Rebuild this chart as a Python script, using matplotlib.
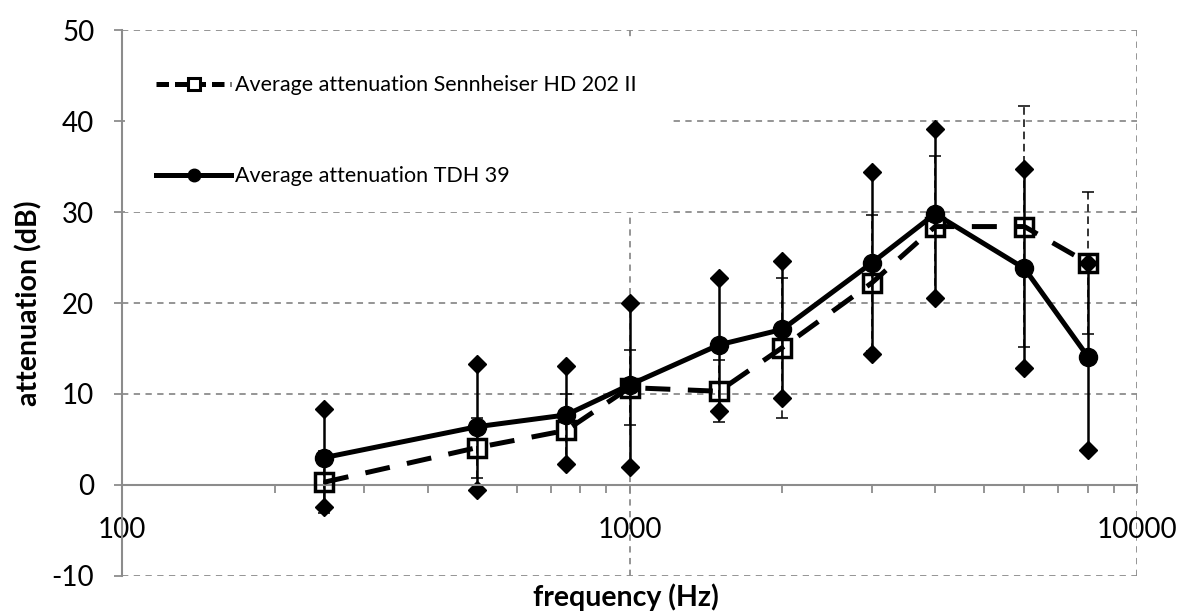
import matplotlib
matplotlib.use("Agg")
import matplotlib.pyplot as plt
from matplotlib.lines import Line2D
from matplotlib.patches import Rectangle
from matplotlib.ticker import LogLocator, NullFormatter, FixedLocator, FixedFormatter

plt.rcParams['font.family'] = ['Lato', 'DejaVu Sans']
plt.rcParams['axes.unicode_minus'] = False

freq = [250, 500, 750, 1000, 1500, 2000, 3000, 4000, 6000, 8000]

# Sennheiser HD 202 II: mean and spread
senn_mean = [0.3, 4.1, 6.0, 10.7, 10.3, 15.1, 22.2, 28.4, 28.4, 24.4]
senn_sd = [3.4, 3.3, 4.0, 4.1, 3.4, 7.7, 7.5, 7.8, 13.2, 7.8]

# TDH 39: mean and spread
tdh_mean = [3.0, 6.4, 7.7, 11.0, 15.4, 17.1, 24.4, 29.8, 23.8, 14.1]
tdh_sd = [5.4, 6.9, 5.4, 9.0, 7.3, 7.5, 10.0, 9.3, 10.9, 10.3]

senn_label = "Average attenuation Sennheiser HD 202 II"
tdh_label = "Average attenuation TDH 39"

yticks = [-10, 0, 10, 20, 30, 40, 50]
xticks = [100, 1000, 10000]
xticklabels = ["100", "1000", "10000"]

grey = "#8c8c8c"

fig = plt.figure(figsize=(11.81, 6.13), dpi=100)
ax = fig.add_axes([0.1033, 0.0604, 0.8595, 0.8906])
ax.set_xscale("log")
ax.set_xlim(100, 10000)
ax.set_ylim(-10, 50)

# grid
ax.set_axisbelow(True)
ax.yaxis.set_major_locator(FixedLocator(yticks))
ax.xaxis.set_major_locator(FixedLocator(xticks))
ax.xaxis.set_major_formatter(FixedFormatter(xticklabels))
ax.xaxis.set_minor_locator(LogLocator(base=10, subs=range(2, 10)))
ax.xaxis.set_minor_formatter(NullFormatter())
ax.grid(True, which="major", color=grey, linestyle=(0, (3.5, 3)), linewidth=1.3)

# white area behind legend hides the grid there
ax.add_patch(Rectangle((0.003, 0.667), 0.539, 0.32, transform=ax.transAxes,
                       facecolor="white", edgecolor="none", zorder=1))

for s in ["top", "right"]:
    ax.spines[s].set_visible(False)
ax.spines["bottom"].set_position(("data", 0))
ax.spines["bottom"].set_color(grey)
ax.spines["left"].set_color(grey)
ax.spines["bottom"].set_linewidth(1.5)
ax.spines["left"].set_linewidth(1.5)

ax.tick_params(axis="x", which="both", direction="out", length=6, width=1.3,
               color=grey, labelsize=20, pad=17)
ax.tick_params(axis="y", which="major", direction="out", length=6, width=1.3,
               color=grey, labelsize=20, pad=14)

# Sennheiser error bars (thin dashed)
eb = ax.errorbar(freq, senn_mean, yerr=senn_sd, fmt="none", ecolor="black",
                 elinewidth=1.1, capsize=4, capthick=1.1, zorder=2)
for lc in eb[2]:
    lc.set_linestyle((0, (5, 3)))

# TDH error bars with diamond ends
ax.errorbar(freq, tdh_mean, yerr=tdh_sd, fmt="none", ecolor="black",
            elinewidth=1.8, capsize=0, zorder=2.2)
tdh_hi = [m + s for m, s in zip(tdh_mean, tdh_sd)]
tdh_lo = [m - s for m, s in zip(tdh_mean, tdh_sd)]
ax.plot(freq, tdh_hi, linestyle="none", marker="D", ms=9, color="black", zorder=2.3)
ax.plot(freq, tdh_lo, linestyle="none", marker="D", ms=9, color="black", zorder=2.3)

# mean lines
ax.plot(freq, senn_mean, color="black", lw=3.6, linestyle=(0, (5, 3.5)),
        marker="s", ms=13, mfc="none", mec="black", mew=2.5, zorder=3)
ax.plot(freq, tdh_mean, color="black", lw=3.6, linestyle="-",
        marker="o", ms=13, mfc="black", mec="black", zorder=4)

ax.set_xlabel("frequency (Hz)", fontsize=20.5, fontweight="bold")
ax.set_ylabel("attenuation (dB)", fontsize=20.5, fontweight="bold")
ax.xaxis.set_label_coords(0.496, -0.014)
ax.yaxis.set_label_coords(-0.078, 0.5)

handles = [
    Line2D([], [], color="black", lw=3.6, linestyle=(0, (2.5, 1.2)),
           marker="s", ms=8, mfc="white", mec="black", mew=2.2),
    Line2D([], [], color="black", lw=3.6, linestyle="-",
           marker="o", ms=9, mfc="black", mec="black"),
]
leg = ax.legend(handles, [senn_label, tdh_label], loc="upper left",
                bbox_to_anchor=(0.0335, 0.917), frameon=False, fontsize=15.5,
                handlelength=3.5, handletextpad=0.15, labelspacing=3.3,
                borderpad=0, borderaxespad=0)
leg.set_zorder(5)

fig.savefig("out.png", dpi=100)
